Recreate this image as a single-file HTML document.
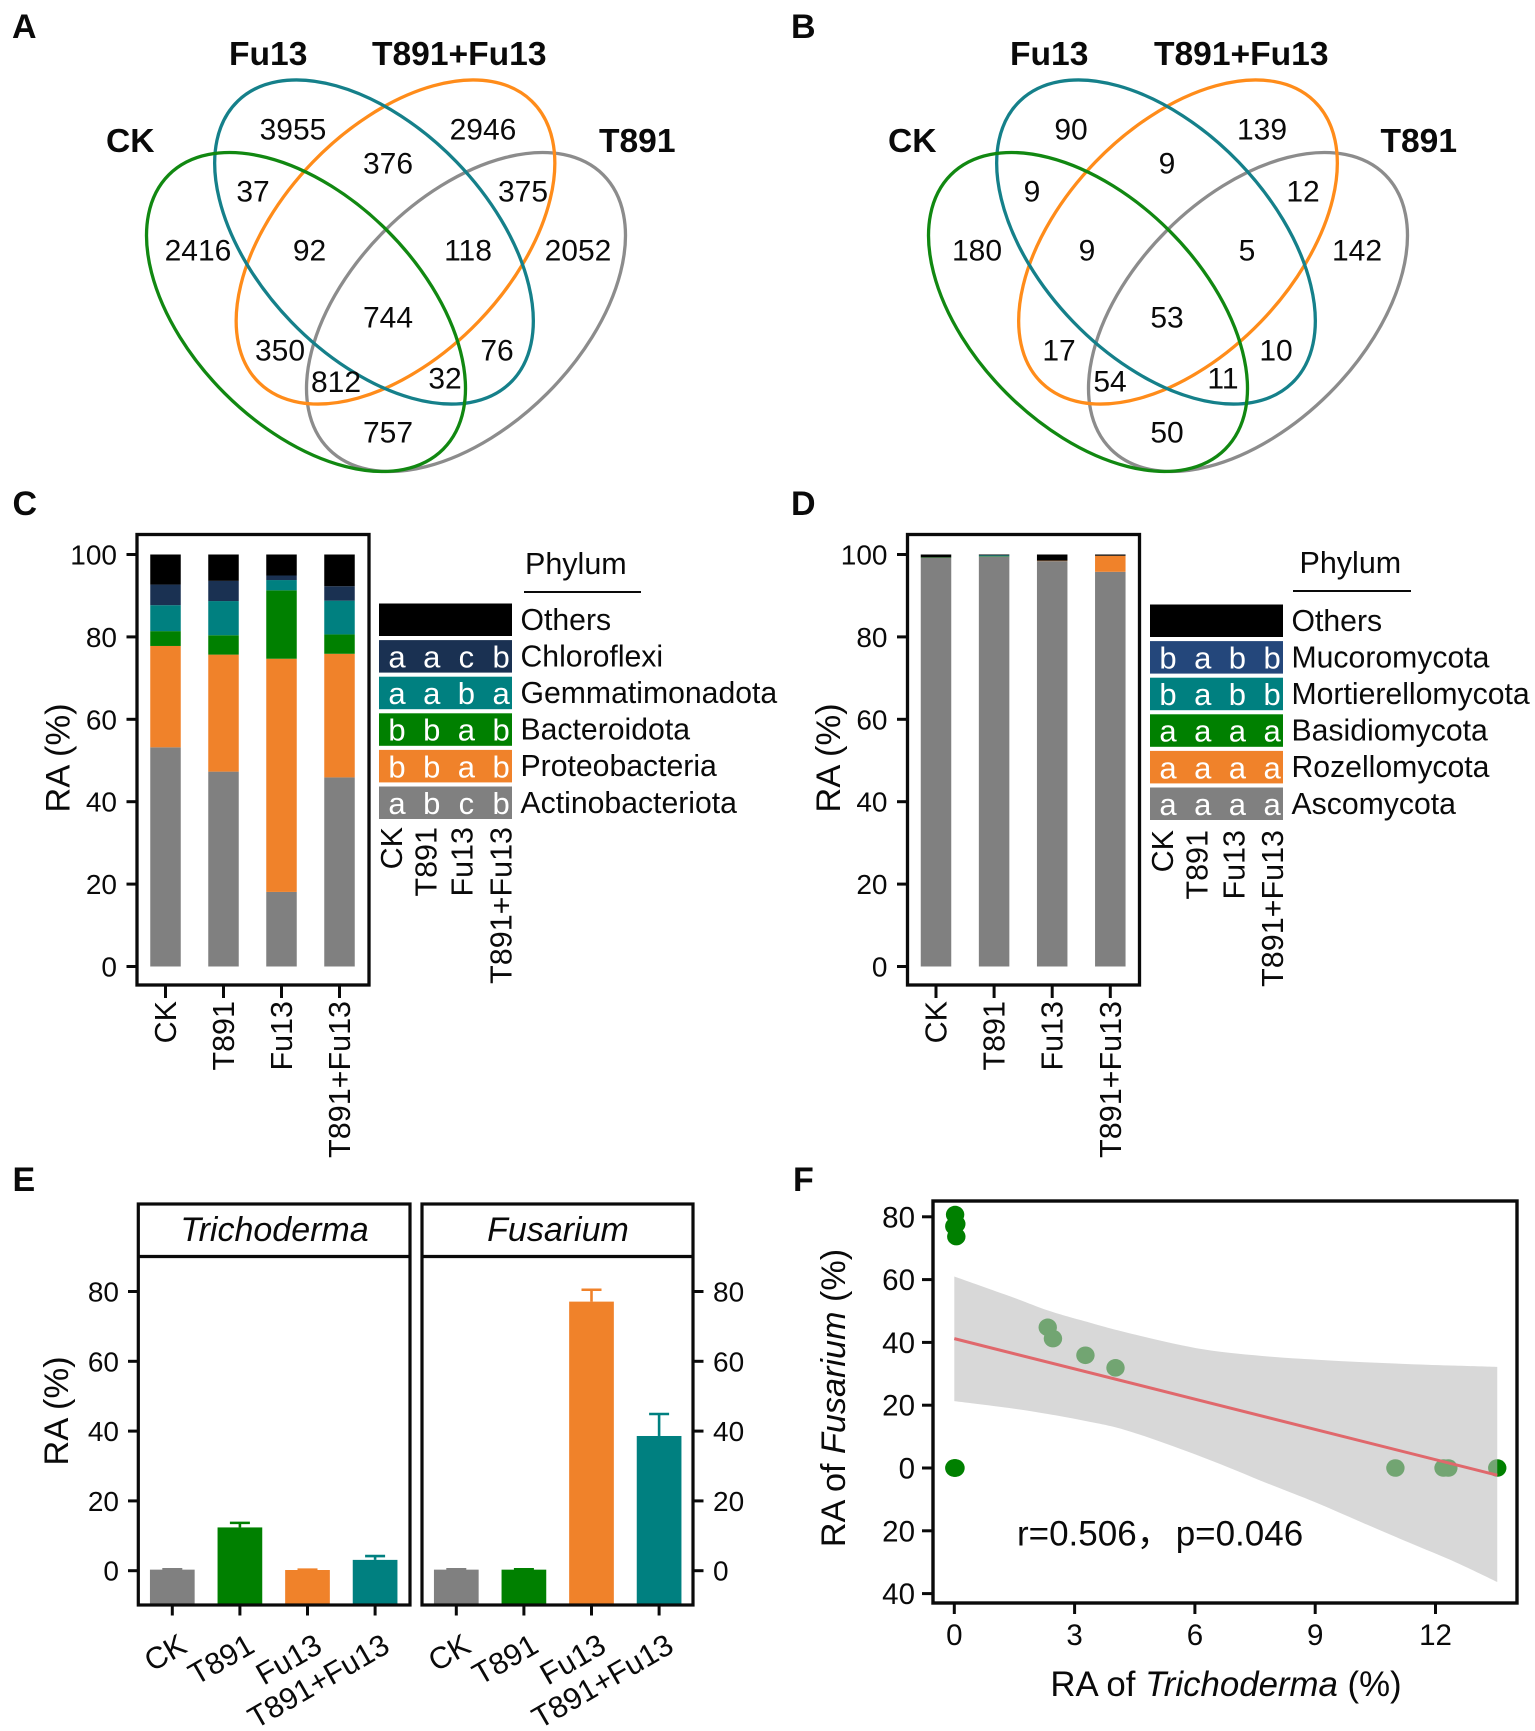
<!DOCTYPE html>
<html lang="en">
<head>
<meta charset="utf-8">
<title>Microbial community composition panels A-F</title>
<style>
html,body{margin:0;padding:0;background:#fff;}
svg{display:block;}
text{font-family:"Liberation Sans","Noto Sans CJK SC",sans-serif;fill:#0a0a0a;}
.b{font-weight:bold;font-size:33.6px;}
.p{font-weight:bold;font-size:34px;}
.n{font-size:30px;text-anchor:middle;}
</style>
</head>
<body>
<svg id="fig" xmlns="http://www.w3.org/2000/svg" width="1535" height="1731" viewBox="0 0 1535 1731">
<rect width="1535" height="1731" fill="#fff"/>
<text class="p" x="12" y="38">A</text>
<text class="p" x="791" y="38">B</text>
<text class="p" x="12.5" y="515">C</text>
<text class="p" x="791" y="515">D</text>
<text class="p" x="12.5" y="1191">E</text>
<text class="p" x="793" y="1191">F</text>

<g fill="none" stroke-width="3.3">
<ellipse cx="466" cy="312" rx="194" ry="115" transform="rotate(-45 466 312)" stroke="#8c8c8c"/>
<ellipse cx="395.5" cy="242" rx="196" ry="115" transform="rotate(-46 395.5 242)" stroke="#ff8c1a"/>
<ellipse cx="374" cy="242" rx="196" ry="115" transform="rotate(46 374 242)" stroke="#15808a"/>
<ellipse cx="306" cy="312" rx="194" ry="115" transform="rotate(45 306 312)" stroke="#118811"/>
</g>
<g>
<text class="b" x="229" y="65">Fu13</text>
<text class="b" x="372" y="65">T891+Fu13</text>
<text class="b" x="106" y="152">CK</text>
<text class="b" x="599" y="152">T891</text>
<text class="n" x="293" y="139.5">3955</text>
<text class="n" x="483" y="139.5">2946</text>
<text class="n" x="388" y="173.5">376</text>
<text class="n" x="253" y="201.5">37</text>
<text class="n" x="523" y="201.5">375</text>
<text class="n" x="198" y="260.5">2416</text>
<text class="n" x="309.5" y="260.5">92</text>
<text class="n" x="468" y="260.5">118</text>
<text class="n" x="578" y="260.5">2052</text>
<text class="n" x="388" y="327.5">744</text>
<text class="n" x="280" y="360.5">350</text>
<text class="n" x="497" y="360.5">76</text>
<text class="n" x="336" y="392">812</text>
<text class="n" x="445" y="388.5">32</text>
<text class="n" x="388" y="442.5">757</text>
</g>

<g fill="none" stroke-width="3.3">
<ellipse cx="1248" cy="312" rx="194" ry="115" transform="rotate(-45 1248 312)" stroke="#8c8c8c"/>
<ellipse cx="1178" cy="242" rx="196" ry="115" transform="rotate(-46 1178 242)" stroke="#ff8c1a"/>
<ellipse cx="1156" cy="242" rx="196" ry="115" transform="rotate(46 1156 242)" stroke="#15808a"/>
<ellipse cx="1088" cy="312" rx="194" ry="115" transform="rotate(45 1088 312)" stroke="#118811"/>
</g>
<g>
<text class="b" x="1010" y="65">Fu13</text>
<text class="b" x="1154" y="65">T891+Fu13</text>
<text class="b" x="888" y="152">CK</text>
<text class="b" x="1380.5" y="152">T891</text>
<text class="n" x="1071" y="139.5">90</text>
<text class="n" x="1262" y="139.5">139</text>
<text class="n" x="1167" y="173.5">9</text>
<text class="n" x="1032" y="201.5">9</text>
<text class="n" x="1303" y="201.5">12</text>
<text class="n" x="977" y="260.5">180</text>
<text class="n" x="1087" y="260.5">9</text>
<text class="n" x="1247" y="260.5">5</text>
<text class="n" x="1357" y="260.5">142</text>
<text class="n" x="1167" y="327.5">53</text>
<text class="n" x="1059" y="360.5">17</text>
<text class="n" x="1276" y="360.5">10</text>
<text class="n" x="1110" y="391.5">54</text>
<text class="n" x="1223" y="388.5">11</text>
<text class="n" x="1167" y="442.5">50</text>
</g>

<g id="panel-c"></g>
<g id="panel-d"></g>
<g id="panel-e"></g>
<g id="panel-f"></g>
</svg>

<script>
// ---- shared categories ----
const categories = ['CK', 'T891', 'Fu13', 'T891+Fu13'];
const stackTicks = [0, 20, 40, 60, 80, 100];

// ---- panel C: segment sizes per category (% RA) ----
const cActinobacteriota = [53.2, 47.3, 18.1, 45.9];
const cProteobacteria = [24.6, 28.4, 56.6, 30.0];
const cBacteroidota = [3.6, 4.7, 16.6, 4.7];
const cGemmatimonadota = [6.3, 8.3, 2.5, 8.2];
const cChloroflexi = [5.0, 4.9, 1.1, 3.5];
const cOthers = [7.3, 6.4, 5.1, 7.7];

// ---- panel D: segment sizes per category (% RA) ----
const dAscomycota = [99.2, 99.5, 98.4, 95.8];
const dRozellomycota = [0, 0, 0.1, 3.9];
const dBasidiomycota = [0.1, 0.1, 0, 0];
const dMortierellomycota = [0, 0.2, 0, 0];
const dMucoromycota = [0, 0, 0, 0];
const dOthers = [0.7, 0.2, 1.5, 0.3];

// ---- legends: names and significance letters ----
const cLegendNames = ['Others', 'Chloroflexi', 'Gemmatimonadota', 'Bacteroidota', 'Proteobacteria', 'Actinobacteriota'];
const cLegendLetters = [[], ['a', 'a', 'c', 'b'], ['a', 'a', 'b', 'a'], ['b', 'b', 'a', 'b'], ['b', 'b', 'a', 'b'], ['a', 'b', 'c', 'b']];
const dLegendNames = ['Others', 'Mucoromycota', 'Mortierellomycota', 'Basidiomycota', 'Rozellomycota', 'Ascomycota'];
const dLegendLetters = [[], ['b', 'a', 'b', 'b'], ['b', 'a', 'b', 'b'], ['a', 'a', 'a', 'a'], ['a', 'a', 'a', 'a'], ['a', 'a', 'a', 'a']];

// ---- panel E ----
const eTicks = [0, 20, 40, 60, 80];
const trichodermaValues = [0.3, 12.4, 0.2, 3.1];
const trichodermaErrors = [0.1, 1.3, 0.1, 1.1];
const fusariumValues = [0.3, 0.3, 77.1, 38.6];
const fusariumErrors = [0.1, 0.1, 3.4, 6.3];

// ---- panel F ----
const fXTicks = [0, 3, 6, 9, 12];
const fYTicks = [80, 60, 40, 20, 0, -20, -40];
const fYTickLabels = ['80', '60', '40', '20', '0', '20', '40'];
const pointsTrichoderma = [0.02, 0.0, 0.05, 0.05, 0, 0.02, 0.03, 0.01, 2.33, 2.46, 3.27, 4.02, 11.0, 12.2, 12.32, 13.54];
const pointsFusarium = [80.7, 77, 77.7, 73.7, 0, 0, 0, 0, 44.8, 41.2, 35.9, 31.9, 0, 0, 0, 0];
const ribbonX = [0, 1.43, 2.33, 3.18, 4.34, 6.2, 7.83, 9, 10.16, 11.33, 12.5, 13.54];
const ribbonUpper = [61, 54.5, 50.2, 47, 43, 37.8, 35.5, 34.5, 33.7, 33.1, 32.6, 32.2];
const ribbonLower = [21.3, 19, 17.2, 15.2, 11.8, 3.4, -5, -10.9, -17.3, -23.7, -30, -36.3];
const fitX = [0, 13.54];
const fitY = [41.2, -2.3];

// ---- drawing styles ----
const NS = 'http://www.w3.org/2000/svg';
const stackColorsC = ['#808080', '#f0822a', '#008000', '#008080', '#1a3152', '#000000'];
const stackColorsD = ['#808080', '#f0822a', '#008000', '#008080', '#24477b', '#000000'];
const legendColorsC = ['#000000', '#1a3152', '#008080', '#008000', '#f0822a', '#808080'];
const legendColorsD = ['#000000', '#24477b', '#008080', '#008000', '#f0822a', '#808080'];
const barColorsE = ['#808080', '#008000', '#f0822a', '#008080'];

function mk(parent, tag, attrs, txt) {
  const el = document.createElementNS(NS, tag);
  for (const k in attrs) el.setAttribute(k, attrs[k]);
  if (txt !== undefined) el.textContent = txt;
  parent.appendChild(el);
  return el;
}

function drawStack(groupId, series, colors, xOf, box, legend, names, letters, legendColors) {
  const g = document.getElementById(groupId);
  const y = v => 966.5 - v * 4.12;
  const barW = 30.5;
  categories.forEach((c, i) => {
    let acc = 0;
    series.forEach((s, k) => {
      if (s[i] <= 0) return;
      const seg = mk(g, 'rect', {x: xOf(i) - barW / 2, y: y(acc + s[i]), width: barW, height: s[i] * 4.12, fill: colors[k]});
      
      
      acc += s[i];
    });
  });
  const frame = mk(g, 'rect', {x: box.x, y: 534.5, width: box.w, height: 450.5, fill: 'none', stroke: '#0a0a0a', 'stroke-width': 3.3});
  
  
  stackTicks.forEach(t => {
    const tick = mk(g, 'line', {x1: box.x - 10.5, x2: box.x, y1: y(t), y2: y(t), stroke: '#0a0a0a', 'stroke-width': 3});
    
    
    const lab = mk(g, 'text', {x: box.x - 20, y: y(t) + 10, 'text-anchor': 'end', 'font-size': 28}, String(t));
    
    
  });
  const title = mk(g, 'text', {transform: 'translate(' + (box.x - 67.5) + ',758) rotate(-90)', 'text-anchor': 'middle', 'font-size': 34.5}, 'RA (%)');
  
  
  categories.forEach((c, i) => {
    const tick = mk(g, 'line', {x1: xOf(i), x2: xOf(i), y1: 985, y2: 998, stroke: '#0a0a0a', 'stroke-width': 3});
    
    
    const lab = mk(g, 'text', {transform: 'translate(' + (xOf(i) + 10.5) + ',1001) rotate(-90)', 'text-anchor': 'end', 'font-size': 30.5}, c);
    
    
  });
  // legend
  const head = mk(g, 'text', {x: legend.headX, y: legend.headY, 'font-size': 30.5}, 'Phylum');
  
  
  const rule = mk(g, 'line', {x1: legend.ruleX1, x2: legend.ruleX2, y1: legend.ruleY, y2: legend.ruleY, stroke: '#0a0a0a', 'stroke-width': 2});
  
  
  names.forEach((n, r) => {
    const top = legend.top + r * 36.6;
    const sw = mk(g, 'rect', {x: legend.x, y: top, width: 133, height: 32.5, fill: legendColors[r]});
    
    
    const lab = mk(g, 'text', {x: legend.labelX, y: top + 26.3, 'font-size': 30.2}, n);
    
    
    letters[r].forEach((ch, j) => {
      const t = mk(g, 'text', {x: legend.x + 18 + j * 34.7, y: top + 27.4, 'text-anchor': 'middle', 'font-size': 31, style: 'fill:#fff'}, ch);
      
      
    });
  });
  categories.forEach((c, i) => {
    const lab = mk(g, 'text', {transform: 'translate(' + (legend.x + legend.cols[i] + 10.5) + ',' + legend.colTop + ') rotate(-90)', 'text-anchor': 'end', 'font-size': 30.5}, c);
    
    
  });
}

drawStack('panel-c',
  [cActinobacteriota, cProteobacteria, cBacteroidota, cGemmatimonadota, cChloroflexi, cOthers],
  stackColorsC, i => 165.5 + 58 * i, {x: 137, w: 232},
  {x: 379, labelX: 520.5, top: 603.5, headX: 525, headY: 574, ruleX1: 524, ruleX2: 641, ruleY: 592, colTop: 827, cols: [12.6, 47, 83, 122]},
  cLegendNames, cLegendLetters, legendColorsC);

drawStack('panel-d',
  [dAscomycota, dRozellomycota, dBasidiomycota, dMortierellomycota, dMucoromycota, dOthers],
  stackColorsD, i => 936 + 58.1 * i, {x: 907.5, w: 232},
  {x: 1150, labelX: 1291.5, top: 604.5, headX: 1299.5, headY: 573, ruleX1: 1293, ruleX2: 1411, ruleY: 591, colTop: 830, cols: [12.6, 47, 84, 122.6]},
  dLegendNames, dLegendLetters, legendColorsD);

// ---- panel E ----
function drawFacet(g, left, right, name, tx, values, errors, xOf) {
  const y = v => 1570.7 - v * 3.49;
  const barW = 44.7;
  const bottom = 1605;
  categories.forEach((c, i) => {
    const bar = mk(g, 'rect', {x: xOf(i) - barW / 2, y: y(values[i]), width: barW, height: bottom - y(values[i]), fill: barColorsE[i]});
    
    
    const stem = mk(g, 'line', {x1: xOf(i), x2: xOf(i), y1: y(values[i]), y2: y(values[i] + errors[i]), stroke: barColorsE[i], 'stroke-width': 2.6});
    
    
    const cap = mk(g, 'line', {x1: xOf(i) - 10, x2: xOf(i) + 10, y1: y(values[i] + errors[i]), y2: y(values[i] + errors[i]), stroke: barColorsE[i], 'stroke-width': 2.6});
    
    
    const tick = mk(g, 'line', {x1: xOf(i), x2: xOf(i), y1: bottom, y2: bottom + 10.5, stroke: '#0a0a0a', 'stroke-width': 3});
    
    
    const lab = mk(g, 'text', {transform: 'translate(' + (xOf(i) + 16.5) + ',1651) rotate(-30)', 'text-anchor': 'end', 'font-size': 30.5}, c);
    
    
  });
  const frame = mk(g, 'rect', {x: left, y: 1204, width: right - left, height: bottom - 1204, fill: 'none', stroke: '#0a0a0a', 'stroke-width': 3.2});
  
  
  const strip = mk(g, 'line', {x1: left, x2: right, y1: 1256.5, y2: 1256.5, stroke: '#0a0a0a', 'stroke-width': 3.2});
  
  
  const label = mk(g, 'text', {x: tx, y: 1241, 'text-anchor': 'middle', 'font-size': 34, 'font-style': 'italic'}, name);
  
  
}
const gE = document.getElementById('panel-e');
drawFacet(gE, 138.3, 410, 'Trichoderma', 274.5, trichodermaValues, trichodermaErrors, i => 172.3 + 67.6 * i);
drawFacet(gE, 422, 693, 'Fusarium', 558, fusariumValues, fusariumErrors, i => 456.3 + 67.6 * i);
eTicks.forEach(t => {
  const yy = 1570.7 - t * 3.49;
  const l = mk(gE, 'line', {x1: 128, x2: 138.3, y1: yy, y2: yy, stroke: '#0a0a0a', 'stroke-width': 3});
  
  
  const lt = mk(gE, 'text', {x: 119, y: yy + 10, 'text-anchor': 'end', 'font-size': 28}, String(t));
  
  
  const r = mk(gE, 'line', {x1: 693, x2: 703.5, y1: yy, y2: yy, stroke: '#0a0a0a', 'stroke-width': 3});
  
  
  const rt = mk(gE, 'text', {x: 713, y: yy + 10, 'font-size': 28}, String(t));
  
  
});
const eTitle = mk(gE, 'text', {transform: 'translate(68,1411) rotate(-90)', 'text-anchor': 'middle', 'font-size': 34.5}, 'RA (%)');



// ---- panel F ----
const gF = document.getElementById('panel-f');
const xF = v => 954.3 + 40.1 * v;
const yF = v => 1468 - 3.14 * v;
pointsTrichoderma.forEach((px, i) => {
  const dot = mk(gF, 'ellipse', {cx: xF(px), cy: yF(pointsFusarium[i]), rx: 9.2, ry: 8.8, fill: '#008000'});
  
  
});
function smoothSegments(xs, ys) {
  // Catmull-Rom through the read points, returned as cubic segments
  let d = '';
  for (let i = 0; i < xs.length - 1; i++) {
    const p0 = i > 0 ? i - 1 : i;
    const p3 = i + 2 < xs.length ? i + 2 : i + 1;
    const c1x = xs[i] + (xs[i + 1] - xs[p0]) / 6;
    const c1y = ys[i] + (ys[i + 1] - ys[p0]) / 6;
    const c2x = xs[i + 1] - (xs[p3] - xs[i]) / 6;
    const c2y = ys[i + 1] - (ys[p3] - ys[i]) / 6;
    d += 'C' + c1x + ' ' + c1y + ' ' + c2x + ' ' + c2y + ' ' + xs[i + 1] + ' ' + ys[i + 1];
  }
  return d;
}
const rxPx = ribbonX.map(xF);
const upPx = ribbonUpper.map(yF);
const loPx = ribbonLower.map(yF);
const ribbonPath = 'M' + rxPx[0] + ' ' + upPx[0] + smoothSegments(rxPx, upPx) +
  'L' + rxPx[rxPx.length - 1] + ' ' + loPx[loPx.length - 1] +
  smoothSegments(rxPx.slice().reverse(), loPx.slice().reverse()) + 'Z';
const ribbon = mk(gF, 'path', {d: ribbonPath, fill: '#bebebe', 'fill-opacity': 0.6});


const fit = mk(gF, 'line', {x1: xF(fitX[0]), y1: yF(fitY[0]), x2: xF(fitX[1]), y2: yF(fitY[1]), stroke: '#e0686c', 'stroke-width': 3});


const fFrame = mk(gF, 'rect', {x: 933, y: 1201, width: 584, height: 402, fill: 'none', stroke: '#0a0a0a', 'stroke-width': 3.4});


fYTicks.forEach((t, i) => {
  const l = mk(gF, 'line', {x1: 922, x2: 933, y1: yF(t), y2: yF(t), stroke: '#0a0a0a', 'stroke-width': 3});
  
  
  const lt = mk(gF, 'text', {x: 915, y: yF(t) + 10.5, 'text-anchor': 'end', 'font-size': 29.5}, fYTickLabels[i]);
  
  
});
fXTicks.forEach(t => {
  const l = mk(gF, 'line', {x1: xF(t), x2: xF(t), y1: 1603, y2: 1614, stroke: '#0a0a0a', 'stroke-width': 3});
  
  
  const lt = mk(gF, 'text', {x: xF(t), y: 1645, 'text-anchor': 'middle', 'font-size': 29.5}, String(t));
  
  
});
const fx = mk(gF, 'text', {x: 1226, y: 1696, 'text-anchor': 'middle', 'font-size': 34.8});


mk(fx, 'tspan', {}, 'RA of ');
mk(fx, 'tspan', {'font-style': 'italic'}, 'Trichoderma');
mk(fx, 'tspan', {}, ' (%)');
const fy = mk(gF, 'text', {transform: 'translate(845,1398) rotate(-90)', 'text-anchor': 'middle', 'font-size': 34.2});


mk(fy, 'tspan', {}, 'RA of ');
mk(fy, 'tspan', {'font-style': 'italic'}, 'Fusarium');
mk(fy, 'tspan', {}, ' (%)');
const note = mk(gF, 'text', {x: 1017, y: 1545.5, 'font-size': 35});


mk(note, 'tspan', {}, 'r=0.506，');
mk(note, 'tspan', {dx: 4}, 'p=0.046');
</script>
</body>
</html>
